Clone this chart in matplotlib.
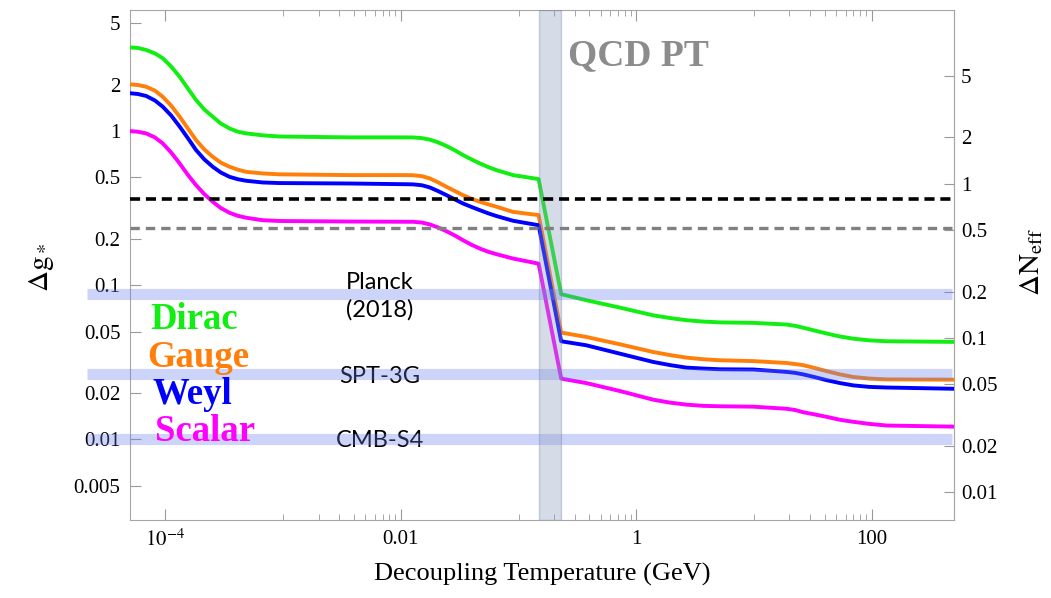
import numpy as np
import matplotlib
matplotlib.use('Agg')
import matplotlib.pyplot as plt
import matplotlib.transforms as mtransforms
from matplotlib.ticker import FixedLocator, FixedFormatter, NullFormatter, NullLocator

# decoupling temperature (GeV) at which the curves were read
temps = [5e-5, 5.82e-5, 6.85e-5, 8.13e-5, 9.48e-5, 1.12e-4, 1.32e-4, 1.55e-4, 1.82e-4, 2.14e-4,
         2.52e-4, 2.95e-4, 3.5e-4, 4.12e-4, 4.85e-4, 6.71e-4, 9.33e-4, 3.67e-3,
         0.0112, 0.0127, 0.0151, 0.0176, 0.0207, 0.0244, 0.0288, 0.0337, 0.0398, 0.0468,
         0.055, 0.0649, 0.0897, 0.148,
         0.23, 0.375, 0.724, 1.39, 1.95, 2.68, 3.72, 5.14, 9.86,
         18.9, 22.4, 26.2, 33.1, 41.5, 53.7, 69.8, 95.5, 134, 500]

# delta g_* for each species
dirac = [3.49, 3.46, 3.36, 3.19, 2.97, 2.62, 2.25, 1.89, 1.59, 1.38,
         1.24, 1.12, 1.04, 0.99, 0.966, 0.938, 0.922, 0.91,
         0.91, 0.909, 0.90, 0.88, 0.845, 0.80, 0.75, 0.699, 0.655, 0.617,
         0.585, 0.558, 0.518, 0.488,
         0.0875, 0.080, 0.0716, 0.0638, 0.0612, 0.0593, 0.0581, 0.0574, 0.057,
         0.0556, 0.0545, 0.053, 0.0507, 0.0486, 0.0465, 0.045, 0.0439, 0.0433, 0.0429]
gauge = [2.01, 1.99, 1.94, 1.83, 1.67, 1.46, 1.24, 1.04, 0.874, 0.76,
         0.681, 0.625, 0.587, 0.562, 0.544, 0.531, 0.524, 0.518,
         0.518, 0.517, 0.51, 0.493, 0.465, 0.435, 0.408, 0.384, 0.364, 0.348,
         0.335, 0.323, 0.299, 0.285,
         0.0493, 0.0462, 0.0414, 0.0369, 0.0352, 0.0339, 0.0331, 0.0326, 0.0322,
         0.0313, 0.0308, 0.0303, 0.029, 0.0277, 0.0264, 0.0254, 0.0248, 0.0245, 0.0244]
weyl = [1.76, 1.74, 1.69, 1.58, 1.44, 1.26, 1.07, 0.9, 0.753, 0.655,
        0.587, 0.539, 0.505, 0.487, 0.476, 0.464, 0.46, 0.457,
        0.452, 0.451, 0.445, 0.431, 0.408, 0.384, 0.36, 0.339, 0.322, 0.307,
        0.293, 0.281, 0.262, 0.245,
        0.0433, 0.0408, 0.036, 0.0318, 0.0303, 0.0292, 0.0288, 0.0285, 0.0284,
        0.0274, 0.027, 0.0264, 0.0253, 0.0242, 0.0232, 0.0224, 0.0219, 0.0217, 0.0213]
scalar = [1.0, 0.99, 0.966, 0.91, 0.832, 0.725, 0.617, 0.52, 0.446, 0.39,
          0.348, 0.317, 0.295, 0.282, 0.274, 0.264, 0.261, 0.259,
          0.258, 0.258, 0.255, 0.248, 0.237, 0.224, 0.21, 0.196, 0.183, 0.173,
          0.165, 0.159, 0.149, 0.138,
          0.0248, 0.0232, 0.0206, 0.0181, 0.0173, 0.0168, 0.0165, 0.0164, 0.0163,
          0.0158, 0.0155, 0.015, 0.0145, 0.014, 0.0134, 0.013, 0.0126, 0.0123, 0.0121]

species = ['Dirac', 'Gauge', 'Weyl', 'Scalar']
colors = ['#11ee11', '#ff7f0a', '#0000ff', '#ff00ff']

# experimental sensitivities (in delta g_*)
exp_levels = [0.088, 0.0266, 0.0101]

# dashed reference levels (delta g_*)
dash_levels = [0.36, 0.236]
qcd_range = [0.148, 0.23]

NEFF_PER_G = 2.2   # 4/7 (11/4)^(4/3)

plt.rcParams['font.family'] = 'Liberation Serif'
plt.rcParams['mathtext.fontset'] = 'stix'

fig = plt.figure(figsize=(10.51, 5.98), dpi=100)
ax = fig.add_axes([130/1051, 78/598, 824/1051, 510/598])

for vals, c in zip([dirac, gauge, weyl, scalar], colors):
    ax.plot(temps, vals, color=c, lw=2.8, solid_joinstyle='round', zorder=3)

# sensitivity bands, reaching out a bit past the left frame
trans = mtransforms.blended_transform_factory(ax.transAxes, ax.transData)
for lev in exp_levels:
    ax.plot([-0.052, 0.9976], [lev, lev], transform=trans, color=(0.4, 0.5, 0.93),
            alpha=0.33, lw=8, solid_capstyle='butt', clip_on=False, zorder=4)

ax.axvspan(qcd_range[0], qcd_range[1], facecolor=(0.55, 0.6, 0.75), alpha=0.35,
           edgecolor=(0.45, 0.5, 0.65), lw=1, zorder=4)

ax.axhline(dash_levels[0], color='k', lw=2.6, dashes=(2.8, 1.6), zorder=5)
ax.axhline(dash_levels[1], color='0.5', lw=2.4, dashes=(2.8, 1.8), zorder=5)

ax.set_xscale('log')
ax.set_yscale('log')
ax.set_xlim(5e-5, 500)
ax.set_ylim(0.003, 6.1)

xt = [1e-4, 1e-2, 1, 100]
ax.xaxis.set_major_locator(FixedLocator(xt))
ax.xaxis.set_major_formatter(FixedFormatter([r'$10^{-4}$', '0.01', '1', '100']))
ax.xaxis.set_minor_locator(FixedLocator([k * 10.0**e for e in (-3, -1, 1) for k in range(1, 10)]))
ax.xaxis.set_minor_formatter(NullFormatter())

yt = [0.005, 0.01, 0.02, 0.05, 0.1, 0.2, 0.5, 1, 2, 5]
ax.yaxis.set_major_locator(FixedLocator(yt))
ax.yaxis.set_major_formatter(FixedFormatter(['0.005', '0.01', '0.02', '0.05', '0.1', '0.2', '0.5', '1', '2', '5']))
ax.yaxis.set_minor_locator(NullLocator())

ax.tick_params(which='both', direction='in', top=True, right=False, color='0.6',
               labelsize=15, pad=7)
ax.tick_params(which='major', length=8)
ax.tick_params(which='minor', length=4)
for sp in ax.spines.values():
    sp.set_color('0.65')

sec = ax.secondary_yaxis('right', functions=(lambda g: g * NEFF_PER_G, lambda n: n / NEFF_PER_G))
rt = [0.01, 0.02, 0.05, 0.1, 0.2, 0.5, 1, 2, 5]
sec.yaxis.set_major_locator(FixedLocator(rt))
sec.yaxis.set_major_formatter(FixedFormatter(['0.01', '0.02', '0.05', '0.1', '0.2', '0.5', '1', '2', '5']))
sec.yaxis.set_minor_locator(NullLocator())
sec.tick_params(which='both', direction='in', color='0.6', labelsize=15, length=7, pad=5)
sec.spines['right'].set_color('0.65')

ax.set_xlabel('Decoupling Temperature (GeV)', fontsize=19)
ax.xaxis.set_label_coords(0.5, -0.085)
fig.text(41 / 1051, 1 - 267 / 598, r'$\Delta\mathrm{g}_*$', rotation=90, ha='center', va='center', fontsize=21)
fig.text(1032 / 1051, 1 - 262 / 598, r'$\Delta\mathrm{N}_{\mathrm{eff}}$', rotation=90, ha='center', va='center', fontsize=21)

# species labels
label_pos = [(0.0243, 0.3745), (0.0206, 0.30), (0.0267, 0.2275), (0.0303, 0.155)]
for name, c, (lx, ly) in zip(species, colors, label_pos):
    ax.text(lx, ly, name, color=c, fontsize=26.5, fontweight='bold', transform=ax.transAxes,
            ha='left', va='baseline', zorder=6)

# experiment labels
ax.text(0.3034, 0.453, 'Planck', fontsize=17, family='Lato', ha='center', va='baseline', transform=ax.transAxes)
ax.text(0.3034, 0.398, '(2018)', fontsize=17, family='Lato', ha='center', va='baseline', transform=ax.transAxes)
ax.text(0.3034, 0.2686, 'SPT-3G', fontsize=17, family='Lato', ha='center', va='baseline', transform=ax.transAxes)
ax.text(0.3034, 0.143, 'CMB-S4', fontsize=17, family='Lato', ha='center', va='baseline', transform=ax.transAxes)

ax.text(0.5316, 0.892, 'QCD PT', fontsize=27, fontweight='bold', color='0.55', ha='left', va='baseline',
        transform=ax.transAxes)

fig.savefig('out.png', dpi=100)
